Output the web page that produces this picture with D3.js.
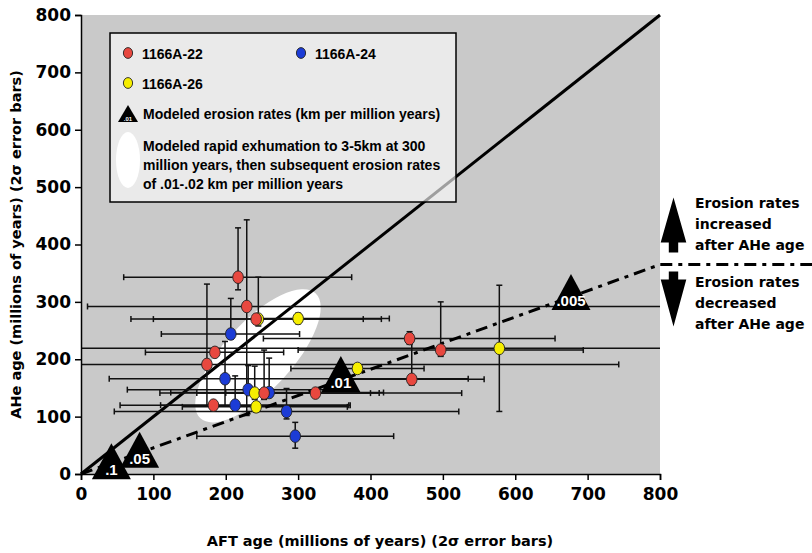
<!DOCTYPE html>
<html>
<head>
<meta charset="utf-8">
<script src="https://cdn.jsdelivr.net/npm/d3@7"></script>
<style>
  body { margin: 0; background: #fff; }
  text { font-family: "DejaVu Sans", sans-serif; font-weight: bold; }
  text.lib { font-family: "Liberation Sans", Arial, sans-serif; }
</style>
</head>
<body>
<script>
var tickValues = [0, 100, 200, 300, 400, 500, 600, 700, 800];

// 1166A-22 (red)
var redAft    = [217, 229, 242, 185, 174, 183, 253, 324, 454, 497, 457];
var redAhe    = [343, 292, 270, 212, 191, 120, 141, 141, 236, 216, 165];
var redAftLo  = [59, 9, 69, 89, -20, 54, 160, 200, 252, 300, 360];
var redAftHi  = [374, 830, 390, 280, 743, 372, 400, 526, 655, 694, 557];
var redAheLo  = [321, 102, 265, 207, 119, 113, 130, 136, 226, 205, 155];
var redAheHi  = [429, 443, 275, 217, 331, 127, 216, 146, 248, 300, 236];

// 1166A-24 (blue)
var blueAft   = [207, 199, 231, 260, 213, 284, 296];
var blueAhe   = [244, 166, 147, 142, 120, 109, 66];
var blueAftLo = [111, 39, 64, 124, 110, 46, 160];
var blueAftHi = [302, 535, 348, 418, 370, 522, 432];
var blueAheLo = [235, 119, 140, 135, 112, 96, 45];
var blueAheHi = [306, 231, 189, 202, 171, 149, 90];

// 1166A-26 (yellow)
var yelAft    = [245, 300, 240, 242, 382, 578];
var yelAhe    = [270, 271, 141, 117, 184, 219];
var yelAftLo  = [100, 240, 109, 140, 290, -20];
var yelAftHi  = [415, 426, 412, 368, 474, 830];
var yelAheLo  = [258, 262, 130, 108, 177, 109];
var yelAheHi  = [343, 280, 188, 126, 191, 329];

// modeled erosion rates (km per million years)
var rateLabels = [".1", ".05", ".01", ".005"];
var rateAft    = [42, 81, 359, 677];
var rateAhe    = [-9, 11, 143, 286];

// modeled erosion-rate path and rapid exhumation field
var modelLine   = [[0, 0], [800, 365]];
var exhumation  = [[165, 97], [324, 315]];
var oneToOne    = [[0, 0], [800, 800]];

var width = 812, height = 553;
var mLeft = 81, mTop = 15, plotW = 579, plotH = 459;

var svg = d3.select("body").append("svg")
    .attr("width", width)
    .attr("height", height);

var x = d3.scaleLinear().domain([0, 800]).range([mLeft, mLeft + plotW]);
var y = d3.scaleLinear().domain([0, 800]).range([mTop + plotH, mTop]);

svg.append("defs").append("clipPath").attr("id", "plot")
  .append("rect")
    .attr("x", mLeft).attr("y", mTop)
    .attr("width", plotW).attr("height", plotH);

svg.append("rect")
    .attr("x", mLeft).attr("y", mTop)
    .attr("width", plotW).attr("height", plotH)
    .attr("fill", "#c9c9c9");

// white exhumation field
var e0 = [x(exhumation[0][0]), y(exhumation[0][1])],
    e1 = [x(exhumation[1][0]), y(exhumation[1][1])];
var ecx = (e0[0] + e1[0]) / 2, ecy = (e0[1] + e1[1]) / 2;
var erx = Math.hypot(e1[0] - e0[0], e1[1] - e0[1]) / 2;
var eang = Math.atan2(e1[1] - e0[1], e1[0] - e0[0]) * 180 / Math.PI;
svg.append("ellipse")
    .attr("cx", ecx).attr("cy", ecy)
    .attr("rx", erx).attr("ry", 34)
    .attr("transform", "rotate(" + eang + "," + ecx + "," + ecy + ")")
    .attr("fill", "#fff");

var line = d3.line().x(function (d) { return x(d[0]); }).y(function (d) { return y(d[1]); });

// 1:1 line
svg.append("path")
    .attr("d", line(oneToOne))
    .attr("stroke", "#000")
    .attr("stroke-width", 3)
    .attr("fill", "none");

// series (blue drawn first, red last, as in the original)
function series(name, color, aft, ahe, aftLo, aftHi, aheLo, aheHi) {
  return aft.map(function (v, i) {
    return { name: name, color: color, x: v, y: ahe[i],
             x0: aftLo[i], x1: aftHi[i], y0: aheLo[i], y1: aheHi[i] };
  });
}
var points = [].concat(
  series("1166A-24", "#1c3cd6", blueAft, blueAhe, blueAftLo, blueAftHi, blueAheLo, blueAheHi),
  series("1166A-26", "#f6ee00", yelAft, yelAhe, yelAftLo, yelAftHi, yelAheLo, yelAheHi),
  series("1166A-22", "#e8483f", redAft, redAhe, redAftLo, redAftHi, redAheLo, redAheHi)
);

// error bars
var bars = svg.append("g")
    .attr("clip-path", "url(#plot)")
    .attr("stroke", "#111")
    .attr("stroke-width", 1.5);

points.forEach(function (d) {
  var px = x(d.x), py = y(d.y);
  bars.append("line")
      .attr("x1", x(d.x0)).attr("x2", x(d.x1))
      .attr("y1", py).attr("y2", py);
  [d.x0, d.x1].forEach(function (v) {
    bars.append("line")
        .attr("x1", x(v)).attr("x2", x(v))
        .attr("y1", py - 3).attr("y2", py + 3);
  });
  bars.append("line")
      .attr("x1", px).attr("x2", px)
      .attr("y1", y(d.y0)).attr("y2", y(d.y1));
  [d.y0, d.y1].forEach(function (v) {
    bars.append("line")
        .attr("x1", px - 3).attr("x2", px + 3)
        .attr("y1", y(v)).attr("y2", y(v));
  });
});

// modeled erosion-rate line, continued to the page edge
var mEnd = modelLine[modelLine.length - 1];
svg.append("path")
    .attr("d", line(modelLine) + "L" + width + "," + y(mEnd[1]))
    .attr("stroke", "#000")
    .attr("stroke-width", 3)
    .attr("stroke-dasharray", "12,6,4,6")
    .attr("fill", "none");

// data points
svg.append("g").selectAll("ellipse")
    .data(points)
    .enter().append("ellipse")
    .attr("cx", function (d) { return x(d.x); })
    .attr("cy", function (d) { return y(d.y); })
    .attr("rx", 5.3)
    .attr("ry", 6.3)
    .attr("fill", function (d) { return d.color; })
    .attr("stroke", "#222")
    .attr("stroke-width", 0.9);

// axes
var xAxis = d3.axisBottom(x).tickValues(tickValues).tickSize(6).tickPadding(8);
var yAxis = d3.axisLeft(y).tickValues(tickValues).tickSize(6).tickPadding(4);

var gx = svg.append("g")
    .attr("transform", "translate(0," + (mTop + plotH) + ")")
    .call(xAxis);
var gy = svg.append("g")
    .attr("transform", "translate(" + mLeft + ",0)")
    .call(yAxis);
[gx, gy].forEach(function (g) {
  g.select(".domain").attr("stroke", "#000").attr("stroke-width", 1.5);
  g.selectAll(".tick line").attr("stroke", "#000").attr("stroke-width", 1.5);
  g.selectAll(".tick text")
      .attr("fill", "#000")
      .style("font-family", "DejaVu Sans")
      .style("font-weight", "bold")
      .style("font-size", "17px");
});

// erosion-rate triangles
var tri = svg.append("g").selectAll("g")
    .data(rateLabels)
    .enter().append("g")
    .attr("transform", function (d, i) {
      return "translate(" + x(rateAft[i]) + "," + y(rateAhe[i]) + ")";
    });
tri.append("path")
    .attr("d", "M-19.5,0L19.5,0L0,-36Z")
    .attr("fill", "#000");
tri.append("text")
    .attr("class", "lib")
    .attr("y", -4)
    .attr("text-anchor", "middle")
    .attr("fill", "#fff")
    .style("font-size", "15px")
    .text(function (d) { return d; });

// axis titles
svg.append("text")
    .attr("x", 380).attr("y", 546)
    .attr("text-anchor", "middle")
    .style("font-size", "14.5px")
    .text("AFT age (millions of years) (2\u03c3 error bars)");
svg.append("text")
    .attr("transform", "translate(21," + (mTop + plotH / 2) + ") rotate(-90)")
    .attr("text-anchor", "middle")
    .style("font-size", "14.5px")
    .text("AHe age (millions of years) (2\u03c3 error bars)");

// legend
var lg = svg.append("g");
lg.append("rect")
    .attr("x", 110).attr("y", 33)
    .attr("width", 346).attr("height", 169)
    .attr("fill", "#fff").attr("fill-opacity", 0.62)
    .attr("stroke", "#000").attr("stroke-width", 1.5);

var legendItems = [
  { name: "1166A-22", color: "#e8483f", lx: 128, ly: 53 },
  { name: "1166A-24", color: "#1c3cd6", lx: 301, ly: 53 },
  { name: "1166A-26", color: "#f6ee00", lx: 128, ly: 83 }
];
legendItems.forEach(function (d) {
  lg.append("ellipse")
      .attr("cx", d.lx).attr("cy", d.ly)
      .attr("rx", 4.6).attr("ry", 5.4)
      .attr("fill", d.color).attr("stroke", "#222").attr("stroke-width", 0.9);
  lg.append("text")
      .attr("class", "lib")
      .attr("x", d.lx + 14).attr("y", d.ly + 5.5)
      .style("font-size", "14px")
      .text(d.name);
});
lg.append("path")
    .attr("d", "M118,122L138,122L128,105Z")
    .attr("fill", "#000");
lg.append("text")
    .attr("class", "lib")
    .attr("x", 128).attr("y", 121)
    .attr("text-anchor", "middle")
    .attr("fill", "#fff")
    .style("font-size", "6px")
    .text(".01");
lg.append("text")
    .attr("class", "lib")
    .attr("x", 143).attr("y", 119)
    .style("font-size", "14px")
    .text("Modeled erosion rates (km per million years)");
lg.append("ellipse")
    .attr("cx", 128).attr("cy", 160)
    .attr("rx", 12).attr("ry", 28)
    .attr("fill", "#fff");
["Modeled rapid exhumation to 3-5km at 300",
 "million years, then subsequent erosion rates",
 "of .01-.02 km per million years"].forEach(function (t, i) {
  lg.append("text")
      .attr("class", "lib")
      .attr("x", 143).attr("y", 150.5 + i * 19)
      .style("font-size", "14px")
      .text(t);
});

// right-hand annotation
var yRef = y(mEnd[1]);
var ax = 673.5;
svg.append("path")
    .attr("d", "M" + (ax - 4.7) + "," + (yRef - 12) +
               "V" + (yRef - 22) + "H" + (ax - 12.8) +
               "L" + ax + "," + (yRef - 67) +
               "L" + (ax + 12.8) + "," + (yRef - 22) +
               "H" + (ax + 4.7) + "V" + (yRef - 12) + "Z")
    .attr("fill", "#000");
svg.append("path")
    .attr("d", "M" + (ax - 4.7) + "," + (yRef + 7) +
               "V" + (yRef + 15) + "H" + (ax - 12.8) +
               "L" + ax + "," + (yRef + 62) +
               "L" + (ax + 12.8) + "," + (yRef + 15) +
               "H" + (ax + 4.7) + "V" + (yRef + 7) + "Z")
    .attr("fill", "#000");
var upText = ["Erosion rates", "increased", "after AHe age"];
var downText = ["Erosion rates", "decreased", "after AHe age"];
upText.forEach(function (t, i) {
  svg.append("text")
      .attr("x", 695).attr("y", yRef - 57 + i * 21)
      .style("font-size", "14px")
      .text(t);
});
downText.forEach(function (t, i) {
  svg.append("text")
      .attr("x", 695).attr("y", yRef + 22 + i * 21)
      .style("font-size", "14px")
      .text(t);
});
</script>
</body>
</html>
